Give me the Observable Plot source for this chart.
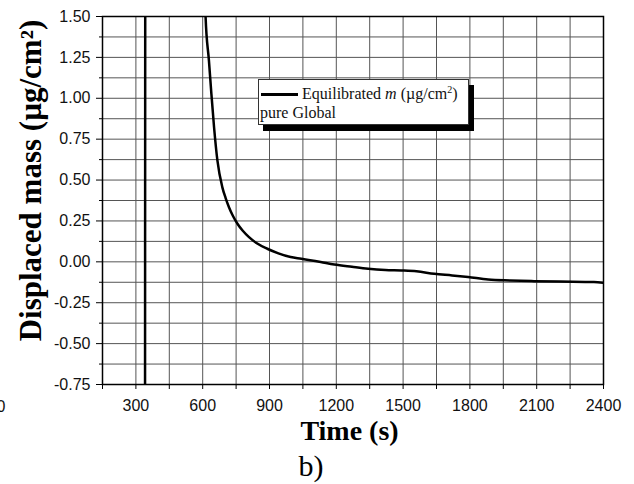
<!DOCTYPE html>
<html>
<head>
<meta charset="utf-8">
<script src="https://cdn.jsdelivr.net/npm/d3@7"></script>
<script src="https://cdn.jsdelivr.net/npm/@observablehq/plot@0.6"></script>
<style>
  html, body { margin: 0; padding: 0; background: #fff; }
  #wrap { position: relative; width: 634px; height: 484px; overflow: hidden; }
  #legend {
    position: absolute; left: 258px; top: 79px; width: 209px; height: 44px;
    border: 1px solid #333; background: #fff; box-shadow: 5px 6px 0 #000;
    font-family: "Liberation Serif", serif; font-size: 16px; color: #111;
  }
  #legend .row1 { position: absolute; left: 2px; top: 5px; white-space: nowrap; }
  #legend .swatch { display: inline-block; width: 37px; height: 2.5px; background: #000; vertical-align: middle; margin-right: 4px; position: relative; top: -1px; }
  #legend .row2 { position: absolute; left: 1px; top: 24px; white-space: nowrap; }
  sup { font-size: 10px; vertical-align: 6px; line-height: 0; }
</style>
</head>
<body>
<div id="wrap">
  <div id="chart"></div>
  <div id="legend">
    <div class="row1"><span class="swatch"></span>Equilibrated <i>m</i> (µg/cm<sup>2</sup>)</div>
    <div class="row2">pure Global</div>
  </div>
</div>
<script>
// Data
const time = [341, 343, 600, 613, 628, 639, 651, 666, 688, 703, 718, 736, 756, 780, 808, 845, 890, 940, 995, 1043, 1130, 1191, 1270, 1343, 1420, 1492, 1560, 1640, 1720, 1792, 1882, 1980, 2088, 2200, 2357, 2398];
const mass = [-1.0, 3.0, 3.0, 1.496, 1.23, 1.027, 0.823, 0.62, 0.457, 0.39, 0.334, 0.28, 0.233, 0.19, 0.151, 0.112, 0.080, 0.052, 0.029, 0.019, -0.001, -0.016, -0.030, -0.042, -0.050, -0.053, -0.058, -0.073, -0.083, -0.093, -0.108, -0.114, -0.118, -0.121, -0.124, -0.128];

const xTicks = [300, 600, 900, 1200, 1500, 1800, 2100, 2400];
const xMinor = [150, 450, 750, 1050, 1350, 1650, 1950, 2250];
const yTicks = [-0.75, -0.5, -0.25, 0, 0.25, 0.5, 0.75, 1.0, 1.25, 1.5];
const yMinor = [-0.625, -0.375, -0.125, 0.125, 0.375, 0.625, 0.875, 1.125, 1.375];

const xLabel = "Time (s)";
const yLabel = "Displaced mass (µg/cm²)";
const panelLabel = "b)";

const data = time.map((t, i) => ({t, m: mass[i]}));
const gridX = [...xTicks, ...xMinor];
const gridY = [...yTicks, ...yMinor];
const serif = "Liberation Serif, Times New Roman, serif";

const chart = Plot.plot({
  width: 634,
  height: 484,
  marginLeft: 102,
  marginRight: 31,
  marginTop: 16,
  marginBottom: 100,
  style: { fontFamily: "Liberation Sans, Arial, sans-serif", fontSize: "16px", color: "#111", background: "transparent" },
  x: { domain: [150, 2400] },
  y: { domain: [-0.75, 1.5] },
  marks: [
    Plot.gridX(gridX, { stroke: "#555", strokeOpacity: 1, strokeWidth: 1 }),
    Plot.gridY(gridY, { stroke: "#555", strokeOpacity: 1, strokeWidth: 1 }),
    Plot.axisY(yTicks, { tickSize: 6, tickPadding: 6, tickFormat: d => d.toFixed(2), label: null, stroke: "#000" }),
    Plot.axisY(yMinor, { tickSize: 3, tickFormat: () => "", label: null, stroke: "#000" }),
    Plot.axisX(xTicks, { tickSize: 5, tickPadding: 10, tickFormat: d => String(d), label: null, stroke: "#000" }),
    Plot.axisX(xMinor, { tickSize: 5, tickFormat: () => "", label: null, stroke: "#000" }),
    Plot.frame({ stroke: "#000", strokeWidth: 1.5 }),
    Plot.line(data, { x: "t", y: "m", stroke: "#000", strokeWidth: 2.5, curve: "monotone-x", clip: true }),
    Plot.text([xLabel], { frameAnchor: "bottom", textAnchor: "middle", lineAnchor: "middle", dx: -3.5, dy: 47, fontFamily: serif, fontWeight: "bold", fontSize: 28, fill: "#000" }),
    Plot.text([panelLabel], { frameAnchor: "bottom", textAnchor: "middle", lineAnchor: "middle", dx: -42, dy: 82, fontFamily: serif, fontSize: 30, fill: "#000" }),
    Plot.text([yLabel], { frameAnchor: "left", textAnchor: "middle", lineAnchor: "middle", dx: -71, dy: -20, rotate: -90, fontFamily: serif, fontWeight: "bold", fontSize: 31, fill: "#000" }),
    Plot.text(["0"], { frameAnchor: "bottom-left", textAnchor: "start", lineAnchor: "middle", dx: -106, dy: 22, fontSize: 16, fill: "#111" })
  ]
});
document.getElementById("chart").appendChild(chart);
</script>
</body>
</html>
